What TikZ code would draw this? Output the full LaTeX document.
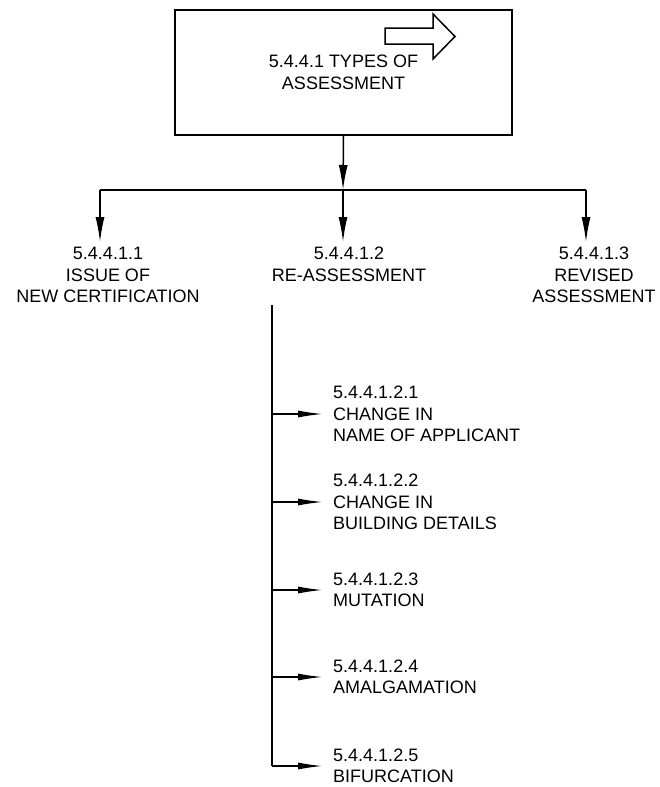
\documentclass[tikz,border=0pt]{standalone}
\usepackage{fontspec}
\setmainfont{Liberation Sans}
\usetikzlibrary{arrows.meta}
\begin{document}
\begin{tikzpicture}[x=1pt,y=-1pt,
  txt/.style={font=\fontsize{18}{21.5}\selectfont},
  lbl/.style={txt, align=center, anchor=north, inner xsep=0pt, inner ysep=5pt},
  sublbl/.style={txt, align=left, anchor=west, inner xsep=10pt, inner ysep=0pt},
  conn/.style={line width=1.5pt},
  varr/.style={conn, -{Latex[length=25pt,width=9pt]}},
  harr/.style={conn, -{Latex[length=25pt,width=7pt]}},
  boxst/.style={draw, line width=1.8pt, minimum width=337pt, minimum height=125pt, inner sep=0pt, align=center, txt}
]
\useasboundingbox (0,0) rectangle (659,787);

% top box
\node[boxst] (box) at (343.5,72.5) {5.4.4.1 TYPES OF\\ASSESSMENT};
% hollow block arrow inside the box
\draw[line width=1.5pt, line join=miter]
  (385,28) -- (433,28) -- (433,14) -- (455,36.5) -- (433,59) -- (433,44) -- (385,44) -- cycle;

% junction
\coordinate (j)  at (343,190);
\coordinate (jl) at (100,190);
\coordinate (jr) at (586,190);

% first-level labels
\node[lbl] (l1) at (108,242) {5.4.4.1.1\\ISSUE OF\\NEW CERTIFICATION};
\node[lbl] (l2) at (349,242) {5.4.4.1.2\\RE-ASSESSMENT};
\node[lbl] (l3) at (594,242) {5.4.4.1.3\\REVISED\\ASSESSMENT};

\draw[varr] (box.south) -- (j);
\draw[conn] (jl) -- (jr);
\draw[varr] (jl) -- (jl |- l1.north);
\draw[varr] (j)  -- (j |- l2.north);
\draw[varr] (jr) -- (jr |- l3.north);

% second-level branch
\coordinate (vtop) at (272,305);
\coordinate (b1) at (272,414);
\coordinate (b2) at (272,502);
\coordinate (b3) at (272,590);
\coordinate (b4) at (272,677);
\coordinate (b5) at (272,766);
\draw[conn] (vtop) -- (b5);

\node[sublbl] (s1) at (323,414) {5.4.4.1.2.1\\CHANGE IN\\NAME OF APPLICANT};
\node[sublbl] (s2) at (323,502) {5.4.4.1.2.2\\CHANGE IN\\BUILDING DETAILS};
\node[sublbl] (s3) at (323,590) {5.4.4.1.2.3\\MUTATION};
\node[sublbl] (s4) at (323,677) {5.4.4.1.2.4\\AMALGAMATION};
\node[sublbl] (s5) at (323,766) {5.4.4.1.2.5\\BIFURCATION};

\draw[harr] (b1) -- (s1.west);
\draw[harr] (b2) -- (s2.west);
\draw[harr] (b3) -- (s3.west);
\draw[harr] (b4) -- (s4.west);
\draw[harr] (b5) -- (s5.west);
\end{tikzpicture}
\end{document}
